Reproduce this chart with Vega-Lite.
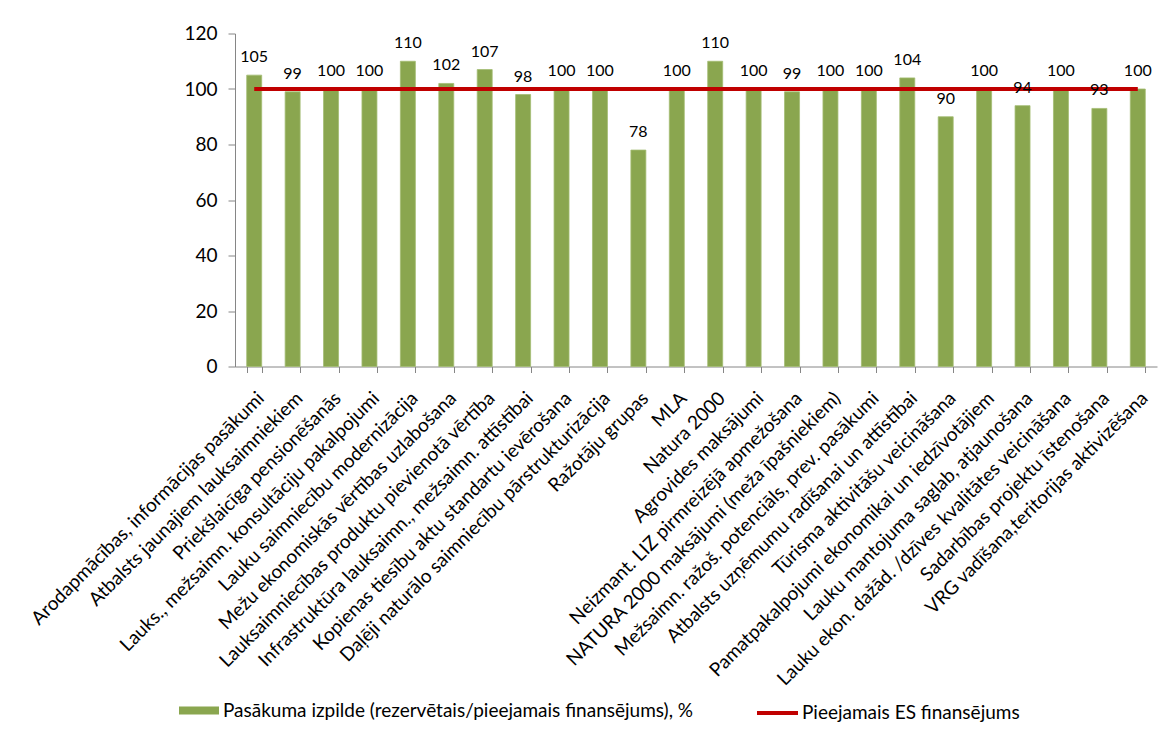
{
  "$schema": "https://vega.github.io/schema/vega-lite/v6.json",
  "width": 922,
  "height": 333,
  "autosize": {"type": "none"},
  "padding": {"left": 235, "top": 33.5, "right": 9, "bottom": 371.5},
  "background": "white",
  "config": {
    "view": {"stroke": null},
    "font": "Lato",
    "axis": {"labelColor": "#000000", "domainColor": "#868686", "tickColor": "#868686", "grid": false, "title": null}
  },
  "data": {
    "values": [
      {"pasakums": "Arodapmācības, informācijas pasākumi", "izpilde": 105, "es": 100},
      {"pasakums": "Atbalsts jaunajiem lauksaimniekiem", "izpilde": 99, "es": 100},
      {"pasakums": "Priekšlaicīga pensionēšanās", "izpilde": 100, "es": 100},
      {"pasakums": "Lauks., mežsaimn.  konsultāciju pakalpojumi", "izpilde": 100, "es": 100},
      {"pasakums": "Lauku saimniecību modernizācija", "izpilde": 110, "es": 100},
      {"pasakums": "Mežu ekonomiskās vērtības uzlabošana", "izpilde": 102, "es": 100},
      {"pasakums": "Lauksaimniecības produktu pievienotā vērtība", "izpilde": 107, "es": 100},
      {"pasakums": "Infrastruktūra lauksaimn.,  mežsaimn. attīstībai", "izpilde": 98, "es": 100},
      {"pasakums": "Kopienas tiesību aktu standartu ievērošana", "izpilde": 100, "es": 100},
      {"pasakums": "Daļēji naturālo saimniecību pārstrukturizācija", "izpilde": 100, "es": 100},
      {"pasakums": "Ražotāju grupas", "izpilde": 78, "es": 100},
      {"pasakums": "MLA", "izpilde": 100, "es": 100},
      {"pasakums": "Natura 2000", "izpilde": 110, "es": 100},
      {"pasakums": "Agrovides maksājumi", "izpilde": 100, "es": 100},
      {"pasakums": "Neizmant. LIZ pirmreizējā apmežošana", "izpilde": 99, "es": 100},
      {"pasakums": "NATURA 2000 maksājumi (meža īpašniekiem)", "izpilde": 100, "es": 100},
      {"pasakums": "Mežsaimn. ražoš. potenciāls, prev. pasākumi", "izpilde": 100, "es": 100},
      {"pasakums": "Atbalsts uzņēmumu radīšanai un attīstībai", "izpilde": 104, "es": 100},
      {"pasakums": "Tūrisma aktivitāšu veicināšana", "izpilde": 90, "es": 100},
      {"pasakums": "Pamatpakalpojumi ekonomikai un iedzīvotājiem", "izpilde": 100, "es": 100},
      {"pasakums": "Lauku mantojuma saglab, atjaunošana", "izpilde": 94, "es": 100},
      {"pasakums": "Lauku ekon. dažād. /dzīves kvalitātes veicināšana", "izpilde": 100, "es": 100},
      {"pasakums": "Sadarbības projektu īstenošana", "izpilde": 93, "es": 100},
      {"pasakums": "VRG vadīšana,teritorijas aktivizēšana", "izpilde": 100, "es": 100}
    ]
  },
  "encoding": {
    "x": {
      "field": "pasakums",
      "type": "nominal",
      "sort": null,
      "scale": {"paddingInner": 0.61, "paddingOuter": 0.305},
      "axis": {
        "labelAngle": -45,
        "labelFontSize": 19,
        "labelPadding": 16,
        "labelLimit": 0,
        "labelOverlap": false,
        "tickBand": "extent",
        "tickSize": 6
      }
    }
  },
  "layer": [
    {
      "mark": {"type": "bar", "stroke": "#A3BD72", "strokeWidth": 0.8},
      "encoding": {
        "y": {
          "field": "izpilde",
          "type": "quantitative",
          "scale": {"domain": [0, 120]},
          "axis": {"values": [0, 20, 40, 60, 80, 100, 120], "labelFontSize": 19, "tickSize": 7, "labelPadding": 11}
        },
        "fill": {
          "datum": "Pasākuma izpilde (rezervētais/pieejamais finansējums), %",
          "scale": {"range": ["#8AA64F"]},
          "legend": {
            "orient": "none",
            "legendX": -56,
            "legendY": 657,
            "title": null,
            "symbolType": "M-1,-0.2H1V0.2H-1Z",
            "symbolSize": 1600,
            "symbolStrokeWidth": 0,
            "labelFontSize": 19,
            "labelColor": "#000000",
            "labelOffset": 4,
            "labelLimit": 0
          }
        }
      }
    },
    {
      "mark": {"type": "line", "strokeWidth": 4},
      "encoding": {
        "y": {"field": "es", "type": "quantitative"},
        "stroke": {
          "datum": "Pieejamais ES finansējums",
          "scale": {"range": ["#C00000"]},
          "legend": {
            "orient": "none",
            "legendX": 520,
            "legendY": 657,
            "title": null,
            "symbolType": "stroke",
            "symbolSize": 1681,
            "symbolStrokeWidth": 4,
            "labelFontSize": 19,
            "labelColor": "#000000",
            "labelOffset": 2,
            "labelLimit": 0
          }
        }
      }
    },
    {
      "mark": {"type": "text", "baseline": "bottom", "dy": -10, "fontSize": 16, "color": "#000000"},
      "encoding": {
        "y": {"field": "izpilde", "type": "quantitative"},
        "text": {"field": "izpilde", "type": "quantitative"}
      }
    }
  ]
}
